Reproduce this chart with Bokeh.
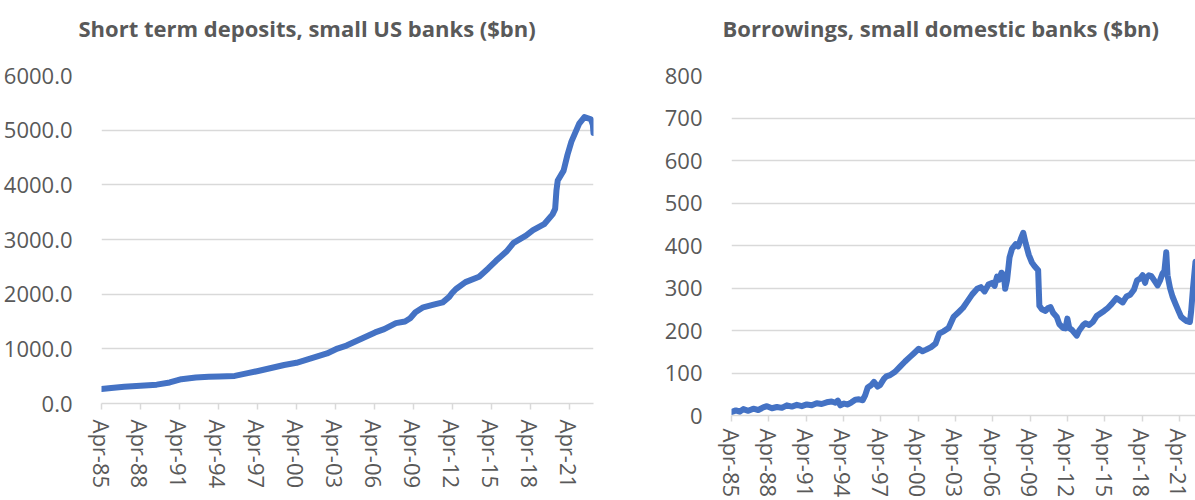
from bokeh.plotting import figure
from bokeh.layouts import row
from bokeh.models import FixedTicker, NumeralTickFormatter, Range1d, Title
from bokeh.embed import file_html
from bokeh.resources import INLINE

# ---- data (decimal years) ----
dep_years = [1985.25, 1986.0, 1987.0, 1988.25, 1989.5, 1990.5, 1991.4, 1992.5, 1993.5, 1994.3,
             1995.5, 1996.5, 1997.3, 1998.3, 1999.3, 2000.25, 2001.3, 2002.6, 2003.4, 2004.1,
             2005.2, 2006.3, 2007.0, 2007.9, 2008.6, 2009.0, 2009.4, 2010.0, 2010.8, 2011.5,
             2012.0, 2012.25, 2012.55, 2013.25, 2014.3, 2015.0, 2015.6, 2016.4, 2016.95, 2017.9,
             2018.45, 2019.3, 2019.95, 2020.15, 2020.25, 2020.35, 2020.8, 2021.1, 2021.4, 2022.0,
             2022.4, 2022.9, 2023.05, 2023.1]
dep_values = [265, 285, 305, 325, 345, 385, 445, 475, 490, 495,
              505, 555, 595, 650, 705, 745, 820, 915, 1005, 1060,
              1180, 1300, 1360, 1470, 1500, 1560, 1670, 1760, 1810, 1850,
              1950, 2030, 2100, 2220, 2320, 2470, 2610, 2780, 2940, 3070,
              3170, 3280, 3460, 3560, 3900, 4080, 4260, 4550, 4790, 5120,
              5240, 5200, 5100, 4950]

bor_years = [1985.25, 1985.6, 1985.9, 1986.2, 1986.6, 1987.0, 1987.4, 1987.8, 1988.1, 1988.5,
             1988.9, 1989.3, 1989.7, 1990.1, 1990.5, 1990.9, 1991.3, 1991.7, 1992.1, 1992.5,
             1992.9, 1993.3, 1993.6, 1993.8, 1994.0, 1994.3, 1994.6, 1994.9, 1995.2, 1995.5,
             1995.8, 1996.0, 1996.2, 1996.5, 1996.7, 1997.0, 1997.2, 1997.5, 1997.7, 1998.0,
             1998.4, 1998.8, 1999.2, 1999.6, 1999.9, 2000.3, 2000.6, 2000.9, 2001.3, 2001.65,
             2001.95, 2002.3, 2002.7, 2003.1, 2003.5, 2003.85, 2004.2, 2004.6, 2005.0, 2005.3,
             2005.6, 2005.9, 2006.2, 2006.4, 2006.6, 2006.8, 2006.95, 2007.15, 2007.25, 2007.4,
             2007.6, 2007.8, 2008.1, 2008.3, 2008.5, 2008.7, 2008.9, 2009.15, 2009.4, 2009.6,
             2009.9, 2010.0, 2010.2, 2010.5, 2010.7, 2010.9, 2011.1, 2011.4, 2011.6, 2011.9,
             2012.1, 2012.25, 2012.4, 2012.6, 2012.8, 2013.0, 2013.2, 2013.5, 2013.7, 2014.0,
             2014.3, 2014.6, 2014.9, 2015.2, 2015.5, 2015.8, 2016.2, 2016.5, 2016.7, 2017.0,
             2017.3, 2017.6, 2017.85, 2018.1, 2018.3, 2018.5, 2018.6, 2018.8, 2019.0, 2019.3,
             2019.5, 2019.7, 2019.9, 2020.05, 2020.2, 2020.3, 2020.5, 2020.7, 2020.95, 2021.2,
             2021.4, 2021.6, 2021.85, 2022.1, 2022.2, 2022.35, 2022.55]
bor_values = [8, 12, 9, 15, 11, 16, 13, 19, 22, 17,
              20, 18, 24, 21, 25, 22, 26, 24, 29, 27,
              31, 33, 30, 35, 24, 28, 26, 31, 37, 38,
              36, 48, 66, 72, 79, 68, 72, 86, 92, 95,
              103, 115, 127, 138, 146, 157, 151, 155, 161, 169,
              193, 198, 206, 232, 243, 253, 268, 285, 298, 302,
              292, 308, 312, 305, 327, 320, 336, 330, 298, 318,
              372, 392, 403, 398, 415, 430, 405, 378, 360, 352,
              342, 258, 250, 246, 253, 255, 242, 232, 215, 206,
              205, 228, 206, 202, 195, 188, 200, 212, 217, 213,
              220, 234, 240, 246, 253, 262, 276, 270, 266, 280,
              284, 296, 318, 322, 330, 312, 324, 330, 328, 315,
              306, 318, 334, 340, 384, 330, 300, 280, 262, 245,
              232, 227, 222, 220, 245, 300, 362]

tick_years = [1985.25 + 3 * i for i in range(13)]
tick_labels = ["Apr-85", "Apr-88", "Apr-91", "Apr-94", "Apr-97", "Apr-00", "Apr-03",
               "Apr-06", "Apr-09", "Apr-12", "Apr-15", "Apr-18", "Apr-21"]

dep_yticks = [0, 1000, 2000, 3000, 4000, 5000, 6000]
bor_yticks = [0, 100, 200, 300, 400, 500, 600, 700, 800]

TITLE_LEFT = "Short term deposits, small US banks ($bn)"
TITLE_RIGHT = "Borrowings, small domestic banks ($bn)"

TXT = "#595959"
GRID = "#d9d9d9"
LINE = "#4472C4"
FONT = "Open Sans"


def make_fig(title, xs, ys, x_end, y_end, yticks, yfmt, w, bl, br, bb, title_offset, xstand):
    p = figure(width=w, height=500, output_backend="svg", toolbar_location=None,
               x_range=Range1d(1985.25, x_end), y_range=Range1d(0, y_end),
               min_border_left=bl, min_border_right=br, min_border_top=75, min_border_bottom=bb)
    p.frame_align = False
    # spacer between frame and title
    p.add_layout(Title(text=" ", text_font_size="12px", standoff=12, text_color=TXT), "above")
    p.add_layout(Title(text=title, text_font=FONT, text_font_style="bold", text_font_size="22px",
                       text_color=TXT, align="left", offset=title_offset, standoff=10), "above")
    p.outline_line_color = None
    p.background_fill_color = "white"
    p.border_fill_color = "white"

    p.line(xs, ys, line_color=LINE, line_width=6, line_join="round", line_cap="round")

    p.xgrid.visible = False
    p.ygrid.grid_line_color = GRID
    p.ygrid.grid_line_width = 1.5
    p.ygrid.ticker = FixedTicker(ticks=yticks)

    xa = p.xaxis[0]
    xa.ticker = FixedTicker(ticks=tick_years)
    xa.major_label_overrides = {t: l for t, l in zip(tick_years, tick_labels)}
    xa.major_label_orientation = "vertical"
    xa.axis_line_color = GRID
    xa.axis_line_width = 1.5
    xa.major_tick_line_color = GRID
    xa.major_tick_line_width = 1.5
    xa.major_tick_out = 6
    xa.major_tick_in = 0
    xa.minor_tick_line_color = None
    xa.major_label_standoff = xstand
    xa.major_label_text_font = FONT
    xa.major_label_text_font_size = "22px"
    xa.major_label_text_color = TXT

    ya = p.yaxis[0]
    ya.ticker = FixedTicker(ticks=yticks)
    ya.formatter = NumeralTickFormatter(format=yfmt)
    ya.axis_line_color = None
    ya.major_tick_line_color = None
    ya.minor_tick_line_color = None
    ya.major_label_standoff = 23
    ya.major_label_text_font = FONT
    ya.major_label_text_font_size = "22px"
    ya.major_label_text_color = TXT
    return p


p1 = make_fig(TITLE_LEFT, dep_years, dep_values, 2023.1, 6000, dep_yticks, "0.0",
              620, 101, 27, 97, -23, 10)
p2 = make_fig(TITLE_RIGHT, bor_years, bor_values, 2022.55, 800, bor_yticks, "0",
              575, 111, 0, 79, -9, 7)

layout = row(p1, p2)

open("out.html", "w").write(file_html(layout, INLINE))
